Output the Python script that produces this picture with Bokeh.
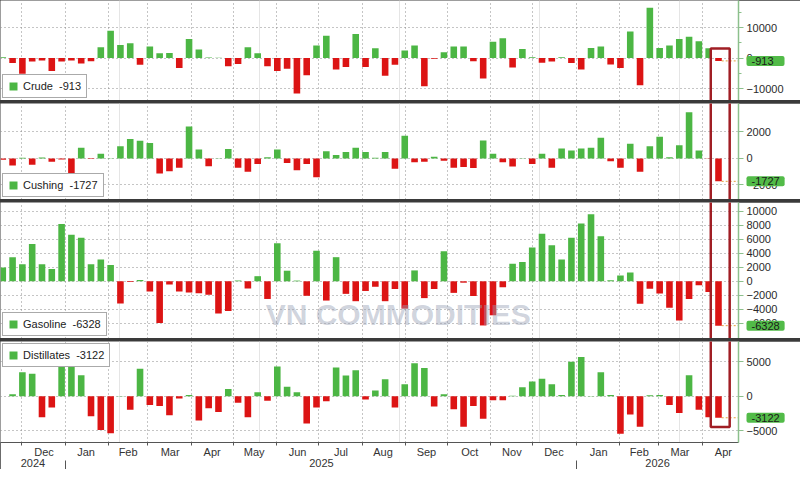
import pandas as pd
from bokeh.plotting import figure
from bokeh.layouts import column
from bokeh.models import (Range1d, FixedTicker, LinearAxis, Grid, Legend, LegendItem,
                          Label, ColumnDataSource)
from bokeh.embed import file_html
from bokeh.resources import INLINE

# ---------------- data (weekly changes, thousand barrels) ----------------
first_week = "2024-11-17"
view_start = "2024-11-15 21:00"
view_end = "2026-04-26 19:00"

crude = [300, -1600, -5100, -1100, -750, -4200, -1100, -750, -1800, -1000,
         3600, 9000, 4300, 4900, -2200, 3800, 1600, 1700, -3200, 6300,
         2800, 200, 100, -2700, -1900, 3600, 1600, -2700, -4200, -3500,
         -11600, -5600, 4100, 7300, -3700, -2900, 7900, -2900, 3200, -5800,
         -2200, 2500, 4100, -9200, -200, 1900, 3800, 3800, -1000, -6700,
         5400, 6500, -3100, 3000, 300, -1500, -1100, 300, -1600, -3700,
         3300, 3800, -2100, -3200, 8700, -8900, 16500, 3300, 4100, 6300,
         7000, 5500, 3200, -913]

cushing = [-100, -530, 50, -480, 80, -240, -80, -2460, 800, -50,
           360, 20, 920, 1470, 1330, 1160, -1130, -960, -700, 2410,
           670, -580, 10, 720, -700, -1010, -410, 100, 670, -340,
           -890, -410, -1420, 550, 260, 480, 800, 480, 50, 480,
           -770, 1710, -290, -240, 120, -170, -700, -650, -720, 1350,
           360, -290, -600, 10, -410, 360, -700, 750, 600, 750,
           800, 1570, -220, -700, 1110, -1010, 920, 1640, 100, 990,
           3490, 600, -30, -1727]

gasoline = [1970, 3440, 2430, 5320, 2430, 1740, 8170, 6650, 6200, 2430,
            3120, 2340, -3170, -100, 200, -1470, -5960, -460, -1470, -1610,
            -1700, -1930, -4590, -4220, 100, -1010, 730, -2520, 5420, 1510,
            100, -2070, 4360, -2750, 3440, -1790, -2840, -1380, -780, -2840,
            -1100, -3900, 1550, -2400, -1100, 4300, -1650, -200, -2100, -6300,
            -4850, -850, 2520, 2750, 4820, 6790, 5140, 3120, 6200, 8260,
            9550, 6430, 150, 830, 1240, -3210, -1060, -1740, -3760, -5600,
            -2520, -550, -1510, -6328]

distillates = [0, 300, 3500, 3300, -3040, -1640, 4340, 4340, 3080, -2900,
               -4900, -5370, 50, -1960, 4020, -1260, -1400, -2750, -330, 200,
               -3500, -1730, -2290, 1070, -930, -3040, 610, -650, 4340, 1400,
               610, -3970, -1630, -700, 4200, 3040, 3780, -470, 840, 2470,
               -1630, 1770, 4810, 4110, -1490, 300, -1870, -4430, -1400, -3270,
               -560, -560, 100, 1310, 2150, 2570, 1770, 200, 5040, 5740,
               50, 3500, 200, -5460, -2660, -4430, 150, 200, -1260, -2430,
               3080, -1960, -3040, -3122]

series_names = ["Crude", "Cushing", "Gasoline", "Distillates"]
y_limits = [(-13900, 18900), (-3100, 4150), (-8160, 11240), (-6720, 7980)]
y_ticks = [[-10000, 0, 10000], [-2000, 0, 2000],
           [-6000, -4000, -2000, 0, 2000, 4000, 6000, 8000, 10000], [-5000, 0, 5000]]
y_minor = [[-15000, -5000, 5000, 15000], [], [], []]
box_top = [3150, None, None, None]
box_bottom = [None, None, None, -4480]
watermark = "VN COMMODITIES"

# ---------------- styling ----------------
FONT = "Liberation Sans"
GREEN = "#4cb644"
RED = "#dc1414"
BOX_RED = "#a01e24"
LABEL_GREEN = "#52bb48"
AXIS_GREEN = "#8cc08c"
GRID = "#8a8a8a"
FW = 738
MBR = 46
frame_heights = [100, 96, 136, 101]
legend_locs = ["bottom_left", "bottom_left", "bottom_left", "top_left"]

origin = pd.Timestamp("2024-11-01")


def day(ts):
    ts = pd.Timestamp(ts)
    return (ts - origin).total_seconds() / 86400.0


dates = pd.date_range(first_week, periods=len(crude), freq="7D")
xs = [day(d) + 0.5 for d in dates]
x0, x1 = day(view_start), day(view_end)
dpp = (x1 - x0) / FW  # days per pixel

month_starts = pd.date_range("2024-12-01", "2026-04-01", freq="MS")
month_start_days = [int(day(m)) for m in month_starts]
month_mid_days = [int(round(day(m) + m.days_in_month / 2.0)) for m in month_starts]
month_labels = {d: m.strftime("%b") for d, m in zip(month_mid_days, month_starts)}
all_month_starts = [int(day(m)) for m in pd.date_range("2024-11-01", "2026-05-01", freq="MS")]

year_starts = [day("2025-01-01"), day("2026-01-01")]
bounds = [x0] + year_starts + [x1]
year_mids = [int(round((a + b) / 2)) for a, b in zip(bounds[:-1], bounds[1:])]
year_labels = {d: str(y) for d, y in zip(year_mids, [2024, 2025, 2026])}

xr = Range1d(x0, x1)
all_series = [crude, cushing, gasoline, distillates]
figs = []
for k, (name, vals) in enumerate(zip(series_names, all_series)):
    bottom = k == 3
    p = figure(frame_width=FW, frame_height=frame_heights[k], x_range=xr,
               y_range=Range1d(*y_limits[k]), output_backend="svg",
               toolbar_location=None, y_axis_location="right", x_axis_location=None,
               min_border_left=0, min_border_right=MBR, min_border_top=0,
               min_border_bottom=0, outline_line_color=None,
               background_fill_color="white", border_fill_color="white")
    # grids
    p.add_layout(Grid(dimension=0, ticker=FixedTicker(ticks=all_month_starts),
                      grid_line_color=GRID, grid_line_dash="1 3", grid_line_width=1))
    yax = p.yaxis[0]
    yax.ticker = FixedTicker(ticks=y_ticks[k], minor_ticks=y_minor[k])
    p.ygrid.grid_line_color = GRID
    p.ygrid.grid_line_dash = "1 3"
    yax.axis_line_color = AXIS_GREEN
    yax.axis_line_width = 1.5
    yax.major_tick_line_color = AXIS_GREEN
    yax.minor_tick_line_color = AXIS_GREEN
    yax.major_tick_out = 5
    yax.major_tick_in = 0
    yax.minor_tick_out = 3
    yax.minor_tick_in = 0
    yax.major_label_standoff = 3
    yax.major_label_text_font = FONT
    yax.major_label_text_font_size = "11px"
    yax.major_label_text_color = "#2a2a2a"

    # last-value dotted line
    p.segment(x0=[xs[-1] + 2.3], y0=[vals[-1]], x1=[x1], y1=[vals[-1]],
              line_color="#e3a03c", line_dash="2 2", line_width=1)

    pos = ColumnDataSource(dict(x=[x for x, v in zip(xs, vals) if v >= 0],
                                top=[v for v in vals if v >= 0]))
    neg = ColumnDataSource(dict(x=[x for x, v in zip(xs, vals) if v < 0],
                                top=[v for v in vals if v < 0]))
    rg = p.vbar(x="x", top="top", bottom=0, width=4.7, source=pos,
                fill_color=GREEN, line_color=None)
    p.vbar(x="x", top="top", bottom=0, width=4.7, source=neg,
           fill_color=RED, line_color=None)

    # highlight box around the latest week
    yl0, yl1 = y_limits[k]
    span = yl1 - yl0
    bt = box_top[k] if box_top[k] is not None else yl1 + span
    bb = box_bottom[k] if box_bottom[k] is not None else yl0 - span
    p.quad(left=[xs[-1] - 5.5], right=[xs[-1] + 8], top=[bt], bottom=[bb],
           fill_color=None, line_color=BOX_RED, line_width=2.5)

    legend = Legend(items=[LegendItem(label=f"{name}  {vals[-1]}", renderers=[rg])],
                    location=legend_locs[k], margin=2, padding=5, spacing=0,
                    label_text_font=FONT, label_text_font_size="11px",
                    label_text_color="#222222", glyph_width=10, glyph_height=10,
                    label_standoff=5, label_height=12,
                    border_line_color="#555555", border_line_width=1,
                    background_fill_color="white", background_fill_alpha=1)
    p.add_layout(legend)

    # latest value tag in the right margin (side panel so it is not clipped)
    tag = str(vals[-1])
    est_w = 3.7 + 6.1 * (len(tag) - 1)
    pad_r = max(3, int(round(33 - est_w)))
    p.add_layout(Label(x=x1 + 8 * dpp, y=vals[-1], text=tag,
                       text_font=FONT, text_font_size="11px", text_color="#1a1a1a",
                       text_align="left", text_baseline="middle",
                       background_fill_color=LABEL_GREEN, background_fill_alpha=1,
                       padding=(5, pad_r, 1, 1), border_radius=2), "right")

    if k == 2:
        p.add_layout(Label(x=x0 + 272 * dpp * 738 / 757, y=-4720, text=watermark,
                           text_font=FONT, text_font_style="bold", text_font_size="30px",
                           text_color="#98a0b4", text_alpha=0.45,
                           text_align="left", text_baseline="middle"))

    if bottom:
        max_ax = LinearAxis(ticker=FixedTicker(ticks=month_mid_days, minor_ticks=month_start_days),
                            major_label_overrides=month_labels,
                            major_tick_line_color=None, major_tick_out=0, major_tick_in=0,
                            minor_tick_out=3, minor_tick_in=0, minor_tick_line_color="#555555",
                            axis_line_color="#555555", major_label_standoff=0,
                            major_label_text_font=FONT, major_label_text_font_size="11px",
                            major_label_text_color="#333333")
        p.add_layout(max_ax, "below")
        yr_ax = LinearAxis(ticker=FixedTicker(ticks=year_mids, minor_ticks=year_starts),
                           major_label_overrides=year_labels,
                           major_tick_line_color=None, major_tick_out=0, major_tick_in=0,
                           minor_tick_out=12, minor_tick_in=0, minor_tick_line_color="#555555",
                           axis_line_color=None, major_label_standoff=-14,
                           major_label_text_font=FONT, major_label_text_font_size="11px",
                           major_label_text_color="#333333")
        p.add_layout(yr_ax, "below")
    figs.append(p)

layout = column(*figs, spacing=3, styles={"background-color": "#3a3a3a"})
open("out.html", "w").write(file_html(layout, INLINE))
